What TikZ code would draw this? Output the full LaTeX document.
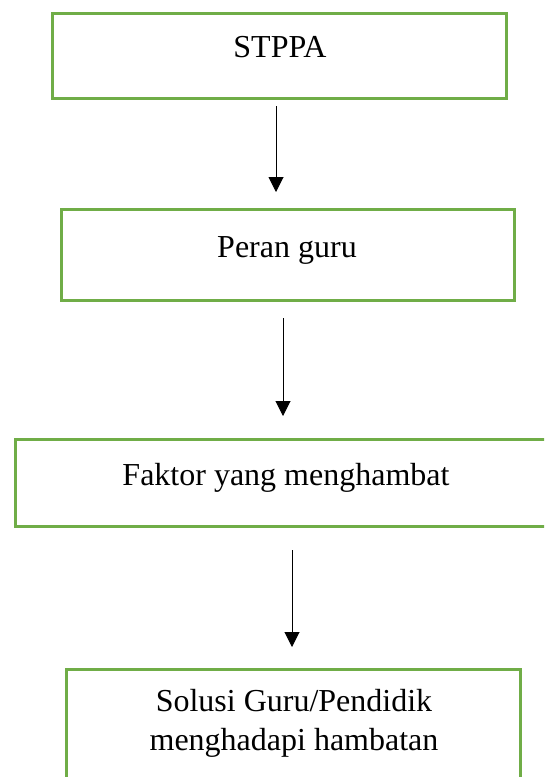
\documentclass[tikz,border=0pt]{standalone}
\usepackage{fontspec}
\setmainfont{Liberation Serif}
\usetikzlibrary{arrows.meta}
\definecolor{boxgreen}{HTML}{70AD47}
\begin{document}
\begin{tikzpicture}[x=1pt,y=-1pt,
  flowbox/.style={draw=boxgreen, line width=3pt, inner sep=0pt, outer sep=0pt},
  lbl/.style={font=\fontsize{32}{39}\selectfont, anchor=base, inner sep=0pt, align=center},
  flowarrow/.style={-{Triangle[length=15pt,width=15pt]}, line width=1pt}]
\useasboundingbox (0,0) rectangle (544,777);
\clip (0,0) rectangle (544,777);
% boxes
\node[flowbox, minimum width=454pt, minimum height=85pt] (b1) at (279,55.5) {};
\node[flowbox, minimum width=453pt, minimum height=91pt] (b2) at (287.5,254.5) {};
\node[flowbox, minimum width=550pt, minimum height=87pt] (b3) at (290,482.5) {};
\node[flowbox, minimum width=454pt, minimum height=140pt] (b4) at (293,739) {};
% labels
\node[lbl] (t1) at (280,57) {STPPA};
\node[lbl] (t2) at (287,257) {Peran guru};
\node[lbl] (t3) at (286,485) {Faktor yang menghambat};
\node[lbl, anchor=north] (t4) at (294,689) {Solusi Guru/Pendidik\\menghadapi hambatan};
% arrows
\coordinate (a1s) at (276,106);
\coordinate (a1e) at (276,192);
\coordinate (a2s) at (283,318);
\coordinate (a2e) at (283,416);
\coordinate (a3s) at (292,550);
\coordinate (a3e) at (292,647);
\draw[flowarrow] (a1s) -- (a1e);
\draw[flowarrow] (a2s) -- (a2e);
\draw[flowarrow] (a3s) -- (a3e);
\end{tikzpicture}
\end{document}
